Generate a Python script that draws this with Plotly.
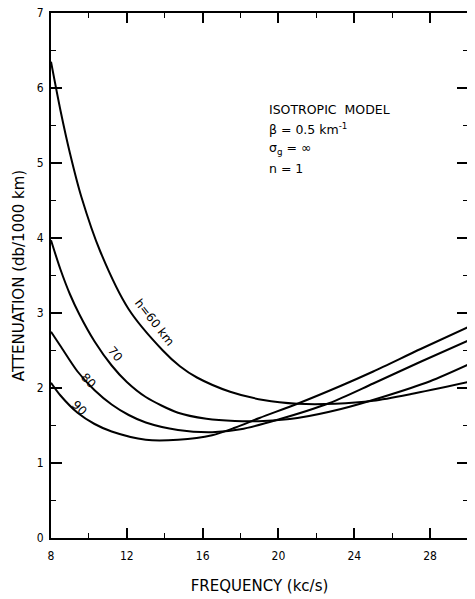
import plotly.graph_objects as go

# Data (frequency in kc/s, attenuation in db/1000 km)
freq_h60 = [8.0, 8.5, 9.0, 9.6, 10.6, 12.1, 13.9, 14.8, 15.7, 17.45, 19.2, 21.0, 23.0, 25.0, 27.0, 30.0]
att_h60 = [6.35, 5.70, 5.13, 4.55, 3.82, 3.05, 2.50, 2.29, 2.14, 1.95, 1.84, 1.79, 1.79, 1.83, 1.92, 2.08]

freq_h70 = [8.0, 8.5, 9.0, 9.5, 10.3, 11.2, 12.0, 13.0, 14.7, 16.2, 17.7, 19.2, 21.0, 23.3, 25.5, 28.0, 30.0]
att_h70 = [3.97, 3.58, 3.25, 2.98, 2.62, 2.30, 2.08, 1.88, 1.67, 1.59, 1.56, 1.56, 1.60, 1.72, 1.88, 2.09, 2.31]

freq_h80 = [8.0, 8.5, 9.4, 10.3, 11.2, 12.1, 13.0, 14.7, 16.5, 18.0, 20.0, 22.7, 25.0, 27.5, 30.0]
att_h80 = [2.75, 2.56, 2.22, 1.97, 1.78, 1.64, 1.54, 1.44, 1.41, 1.45, 1.58, 1.80, 2.06, 2.35, 2.63]

freq_h90 = [8.0, 8.5, 9.4, 10.3, 11.2, 13.0, 14.7, 16.5, 17.7, 19.0, 21.1, 23.3, 25.0, 27.5, 30.0]
att_h90 = [2.07, 1.90, 1.67, 1.52, 1.42, 1.31, 1.31, 1.37, 1.47, 1.60, 1.80, 2.03, 2.22, 2.52, 2.81]

x_ticks = [8, 12, 16, 20, 24, 28]
y_ticks = [0, 1, 2, 3, 4, 5, 6, 7]

curve_labels = ["h=60 km", "70", "80", "90"]
label_x = [13.45, 11.4, 10.0, 9.5]
label_y = [2.88, 2.46, 2.1, 1.74]
label_angle = [52, 50, 45, 45]

fig = go.Figure()
for xs, ys in [(freq_h60, att_h60), (freq_h70, att_h70), (freq_h80, att_h80), (freq_h90, att_h90)]:
    fig.add_trace(go.Scatter(x=xs, y=ys, mode="lines",
                             line=dict(color="black", width=2, shape="spline", smoothing=0.8),
                             showlegend=False, hoverinfo="skip"))

tick_font = dict(family="DejaVu Sans Condensed, DejaVu Sans, sans-serif", size=12, color="black")
title_font = dict(family="DejaVu Sans, sans-serif", size=15, color="black")

fig.update_xaxes(range=[8, 30], tickvals=x_ticks, ticktext=[str(v) for v in x_ticks],
                 ticks="inside", ticklen=10, tickwidth=1.5, tickcolor="black",
                 minor=dict(dtick=2, tick0=8, ticks="inside", ticklen=5, tickcolor="black", tickwidth=1.2),
                 showline=True, linecolor="black", linewidth=2, mirror="allticks",
                 showgrid=False, zeroline=False, tickfont=tick_font, ticklabelstandoff=6,
                 ticklabeloverflow="allow", automargin=False,
                 title=dict(text="FREQUENCY (kc/s)", standoff=18, font=title_font))
fig.update_yaxes(range=[0, 7], tickvals=y_ticks, ticktext=[str(v) for v in y_ticks],
                 ticks="inside", ticklen=11, tickwidth=1.5, tickcolor="black",
                 minor=dict(dtick=0.5, tick0=0, ticks="inside", ticklen=5, tickcolor="black", tickwidth=1.2),
                 showline=True, linecolor="black", linewidth=2, mirror="allticks",
                 showgrid=False, zeroline=False, tickfont=tick_font, ticklabelstandoff=3,
                 ticklabeloverflow="allow", automargin=False,
                 title=dict(text="ATTENUATION (db/1000 km)", standoff=8, font=title_font))

for t, x, y, a in zip(curve_labels, label_x, label_y, label_angle):
    fig.add_annotation(x=x, y=y, text=t, textangle=a, showarrow=False,
                       font=dict(family="DejaVu Sans, sans-serif", size=12, color="black"))

info_lines = ["ISOTROPIC  MODEL", "β = 0.5 km<sup>-1</sup>", "σ<sub>g</sub> = ∞", "n = 1"]
info_y = [5.71, 5.46, 5.19, 4.93]
for t, y in zip(info_lines, info_y):
    fig.add_annotation(x=19.4, y=y, text=t, showarrow=False, xanchor="left",
                       font=dict(family="DejaVu Sans, sans-serif", size=12.5, color="black"))

# page body adds an 8px offset, so margins are compensated
fig.update_layout(width=475, height=599, margin=dict(l=43, r=15, t=5, b=69),
                  plot_bgcolor="white", paper_bgcolor="white")

fig.write_html("out.html")
